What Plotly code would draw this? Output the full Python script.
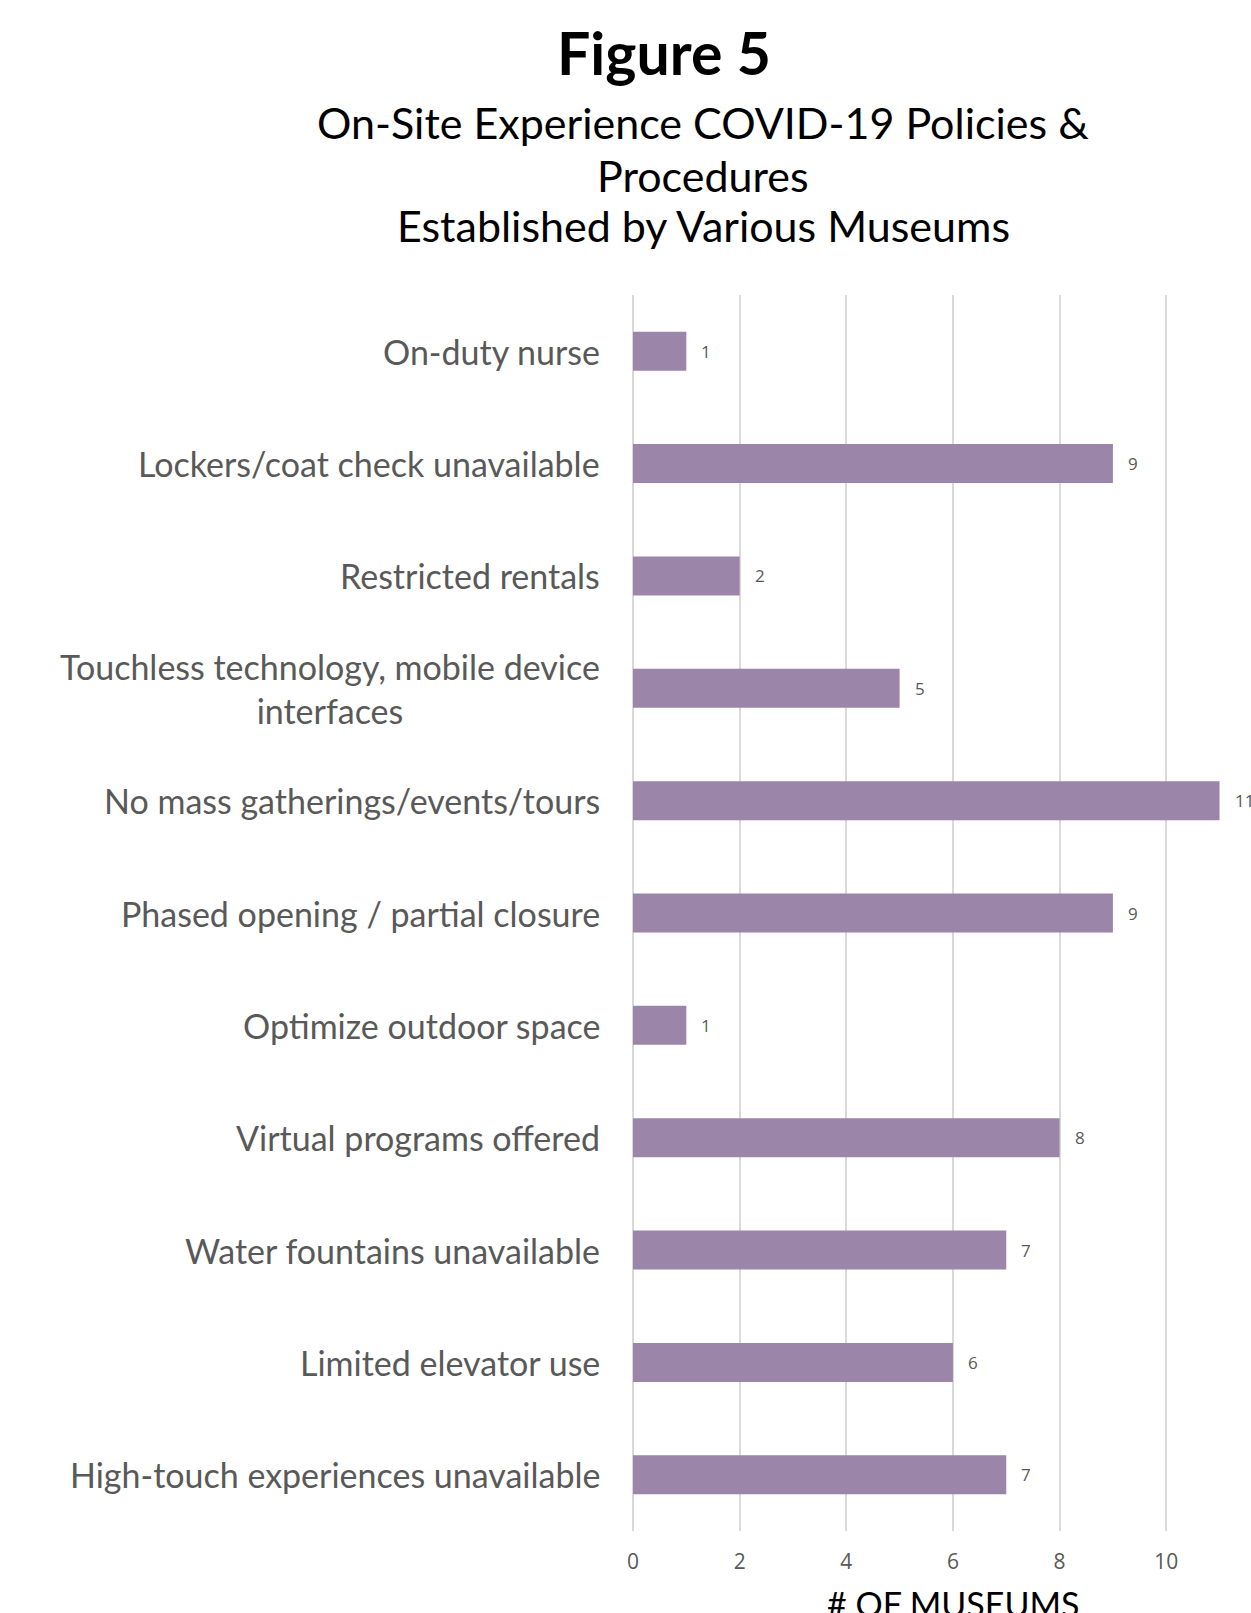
import plotly.graph_objects as go

# Policies listed top to bottom, with the number of museums reporting each
categories = [
    "On-duty nurse",
    "Lockers/coat check unavailable",
    "Restricted rentals",
    "Touchless technology, mobile device<br>interfaces",
    "No mass gatherings/events/tours",
    "Phased opening / partial closure",
    "Optimize outdoor space",
    "Virtual programs offered",
    "Water fountains unavailable",
    "Limited elevator use",
    "High-touch experiences unavailable",
]
museums = [1, 9, 2, 5, 11, 9, 1, 8, 7, 6, 7]
x_ticks = [0, 2, 4, 6, 8, 10]

BAR_COLOR = "#9B85A8"
GRID_COLOR = "#D9D9D9"
LABEL_GRAY = "#595959"
TITLE_FONT = "Lato"

W, H = 1251, 1613
L, T, B = 632.7, 295, 1613 - 1531


def px_x(px):
    return (px - L) / (W - L)


def px_y(py):
    return 1 - (py - T) / (H - T - B)


fig = go.Figure()
fig.add_trace(go.Bar(
    x=museums,
    y=categories,
    orientation="h",
    marker=dict(color=BAR_COLOR, line=dict(width=0)),
    hoverinfo="skip",
))

# Category labels, centered per line and right-aligned to the axis
for cat in categories:
    fig.add_annotation(
        x=0, xref="paper", y=cat, yref="y",
        text=cat, showarrow=False,
        xanchor="right", yanchor="middle", align="center",
        xshift=-31,
        font=dict(family=TITLE_FONT, size=34, color=LABEL_GRAY),
    )

# Value labels next to each bar end
for cat, v in zip(categories, museums):
    fig.add_annotation(
        x=v, xref="x", y=cat, yref="y",
        text=str(v), showarrow=False,
        xanchor="left", yanchor="middle",
        xshift=13,
        font=dict(family="Open Sans", size=17, color=LABEL_GRAY),
    )

# Titles
fig.add_annotation(
    x=px_x(664), xref="paper", y=px_y(53), yref="paper",
    text="<b>Figure 5</b>", showarrow=False,
    xanchor="center", yanchor="middle",
    font=dict(family=TITLE_FONT, size=59, color="black"),
)
subtitle_lines = [
    "On-Site Experience COVID-19 Policies &",
    "Procedures",
    "Established by Various Museums",
]
for line, yc in zip(subtitle_lines, [122, 175, 226]):
    fig.add_annotation(
        x=px_x(703), xref="paper", y=px_y(yc), yref="paper",
        text=line, showarrow=False,
        xanchor="center", yanchor="middle",
        font=dict(family=TITLE_FONT, size=43, color="black"),
    )

fig.add_annotation(
    x=px_x(953), xref="paper", y=px_y(1603), yref="paper",
    text="# OF MUSEUMS", showarrow=False,
    xanchor="center", yanchor="middle",
    font=dict(family=TITLE_FONT, size=34, color="black"),
)

fig.update_layout(
    width=W, height=H,
    margin=dict(l=L, r=0, t=T, b=B, pad=0),
    paper_bgcolor="white",
    plot_bgcolor="white",
    showlegend=False,
    bargap=0.653,
    xaxis=dict(
        range=[0, 11.59],
        tickvals=x_ticks,
        showgrid=True, gridcolor=GRID_COLOR, gridwidth=2,
        zeroline=True, zerolinecolor=GRID_COLOR, zerolinewidth=2,
        showline=False,
        ticks="", ticklabelstandoff=16,
        tickfont=dict(family="Open Sans", size=21, color=LABEL_GRAY),
        fixedrange=True,
    ),
    yaxis=dict(
        autorange="reversed",
        showticklabels=False,
        showgrid=False, showline=False, zeroline=False,
        ticks="",
        fixedrange=True,
    ),
)

fig.write_html("out.html")
